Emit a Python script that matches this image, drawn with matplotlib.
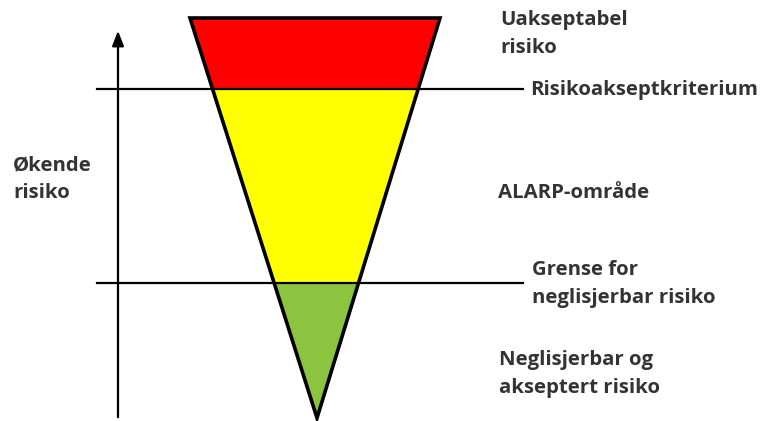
import matplotlib
matplotlib.use("Agg")
from matplotlib import pyplot as plt
from matplotlib.patches import Polygon

# ALARP-trakt: soner fra toppen og ned (y i piksler, 0 oppe)
soner = ["Uakseptabel", "ALARP", "Neglisjerbar"]
sone_farger = ["#ff0000", "#ffff00", "#8cc43f"]
grenser = [18, 89, 283, 418]   # topp, akseptkriterium, neglisjerbar-grense, spiss
topp_venstre = 190
topp_hoyre = 440
spiss_x = 317

etiketter = ["Uakseptabel\nrisiko", "Risikoakseptkriterium", "ALARP-område",
             "Grense for\nneglisjerbar risiko", "Neglisjerbar og\nakseptert risiko"]
etikett_x = [500, 530, 498, 532, 499]
etikett_y = [34, 90, 193, 284, 374]
akse_tekst = "Økende\nrisiko"

plt.rcParams['font.family'] = ['Open Sans', 'DejaVu Sans']
fig = plt.figure(figsize=(7.62, 4.21), dpi=100)
ax = fig.add_axes([0, 0, 1, 1])
ax.set_xlim(0, 762)
ax.set_ylim(421, 0)
ax.axis('off')


def kant_x(y):
    # venstre og høyre kant av trakten ved høyde y
    t = (y - grenser[0]) / (grenser[-1] - grenser[0])
    return topp_venstre + t * (spiss_x - topp_venstre), topp_hoyre + t * (spiss_x - topp_hoyre)


for i in range(len(soner)):
    y0, y1 = grenser[i], grenser[i + 1]
    l0, r0 = kant_x(y0)
    l1, r1 = kant_x(y1)
    ax.add_patch(Polygon([(l0, y0), (r0, y0), (r1, y1), (l1, y1)], closed=True,
                         facecolor=sone_farger[i], edgecolor='none', zorder=1))

# svart omriss
ax.add_patch(Polygon([(topp_venstre, grenser[0]), (topp_hoyre, grenser[0]), (spiss_x, grenser[-1])],
                     closed=True, facecolor='none', edgecolor='black', lw=2.6,
                     joinstyle='miter', zorder=3))

# grenselinjer
for g in grenser[1:3]:
    ax.plot([97, 523], [g, g], color='black', lw=1.6, zorder=2)

# akse med pil
ax.annotate('', xy=(118, 28), xytext=(118, 420),
            arrowprops=dict(arrowstyle='-|>,head_width=0.35,head_length=0.9',
                            color='black', lw=1.6))

tekst_farge = '#333333'
for tekst, x, y in zip(etiketter, etikett_x, etikett_y):
    ax.text(x, y, tekst, ha='left', va='center', fontsize=14.7, fontweight='bold',
            color=tekst_farge, linespacing=1.5)
ax.text(13, 179, akse_tekst, ha='left', va='center', fontsize=14.7, fontweight='bold',
        color=tekst_farge, linespacing=1.5)

plt.savefig('out.png', dpi=100)
